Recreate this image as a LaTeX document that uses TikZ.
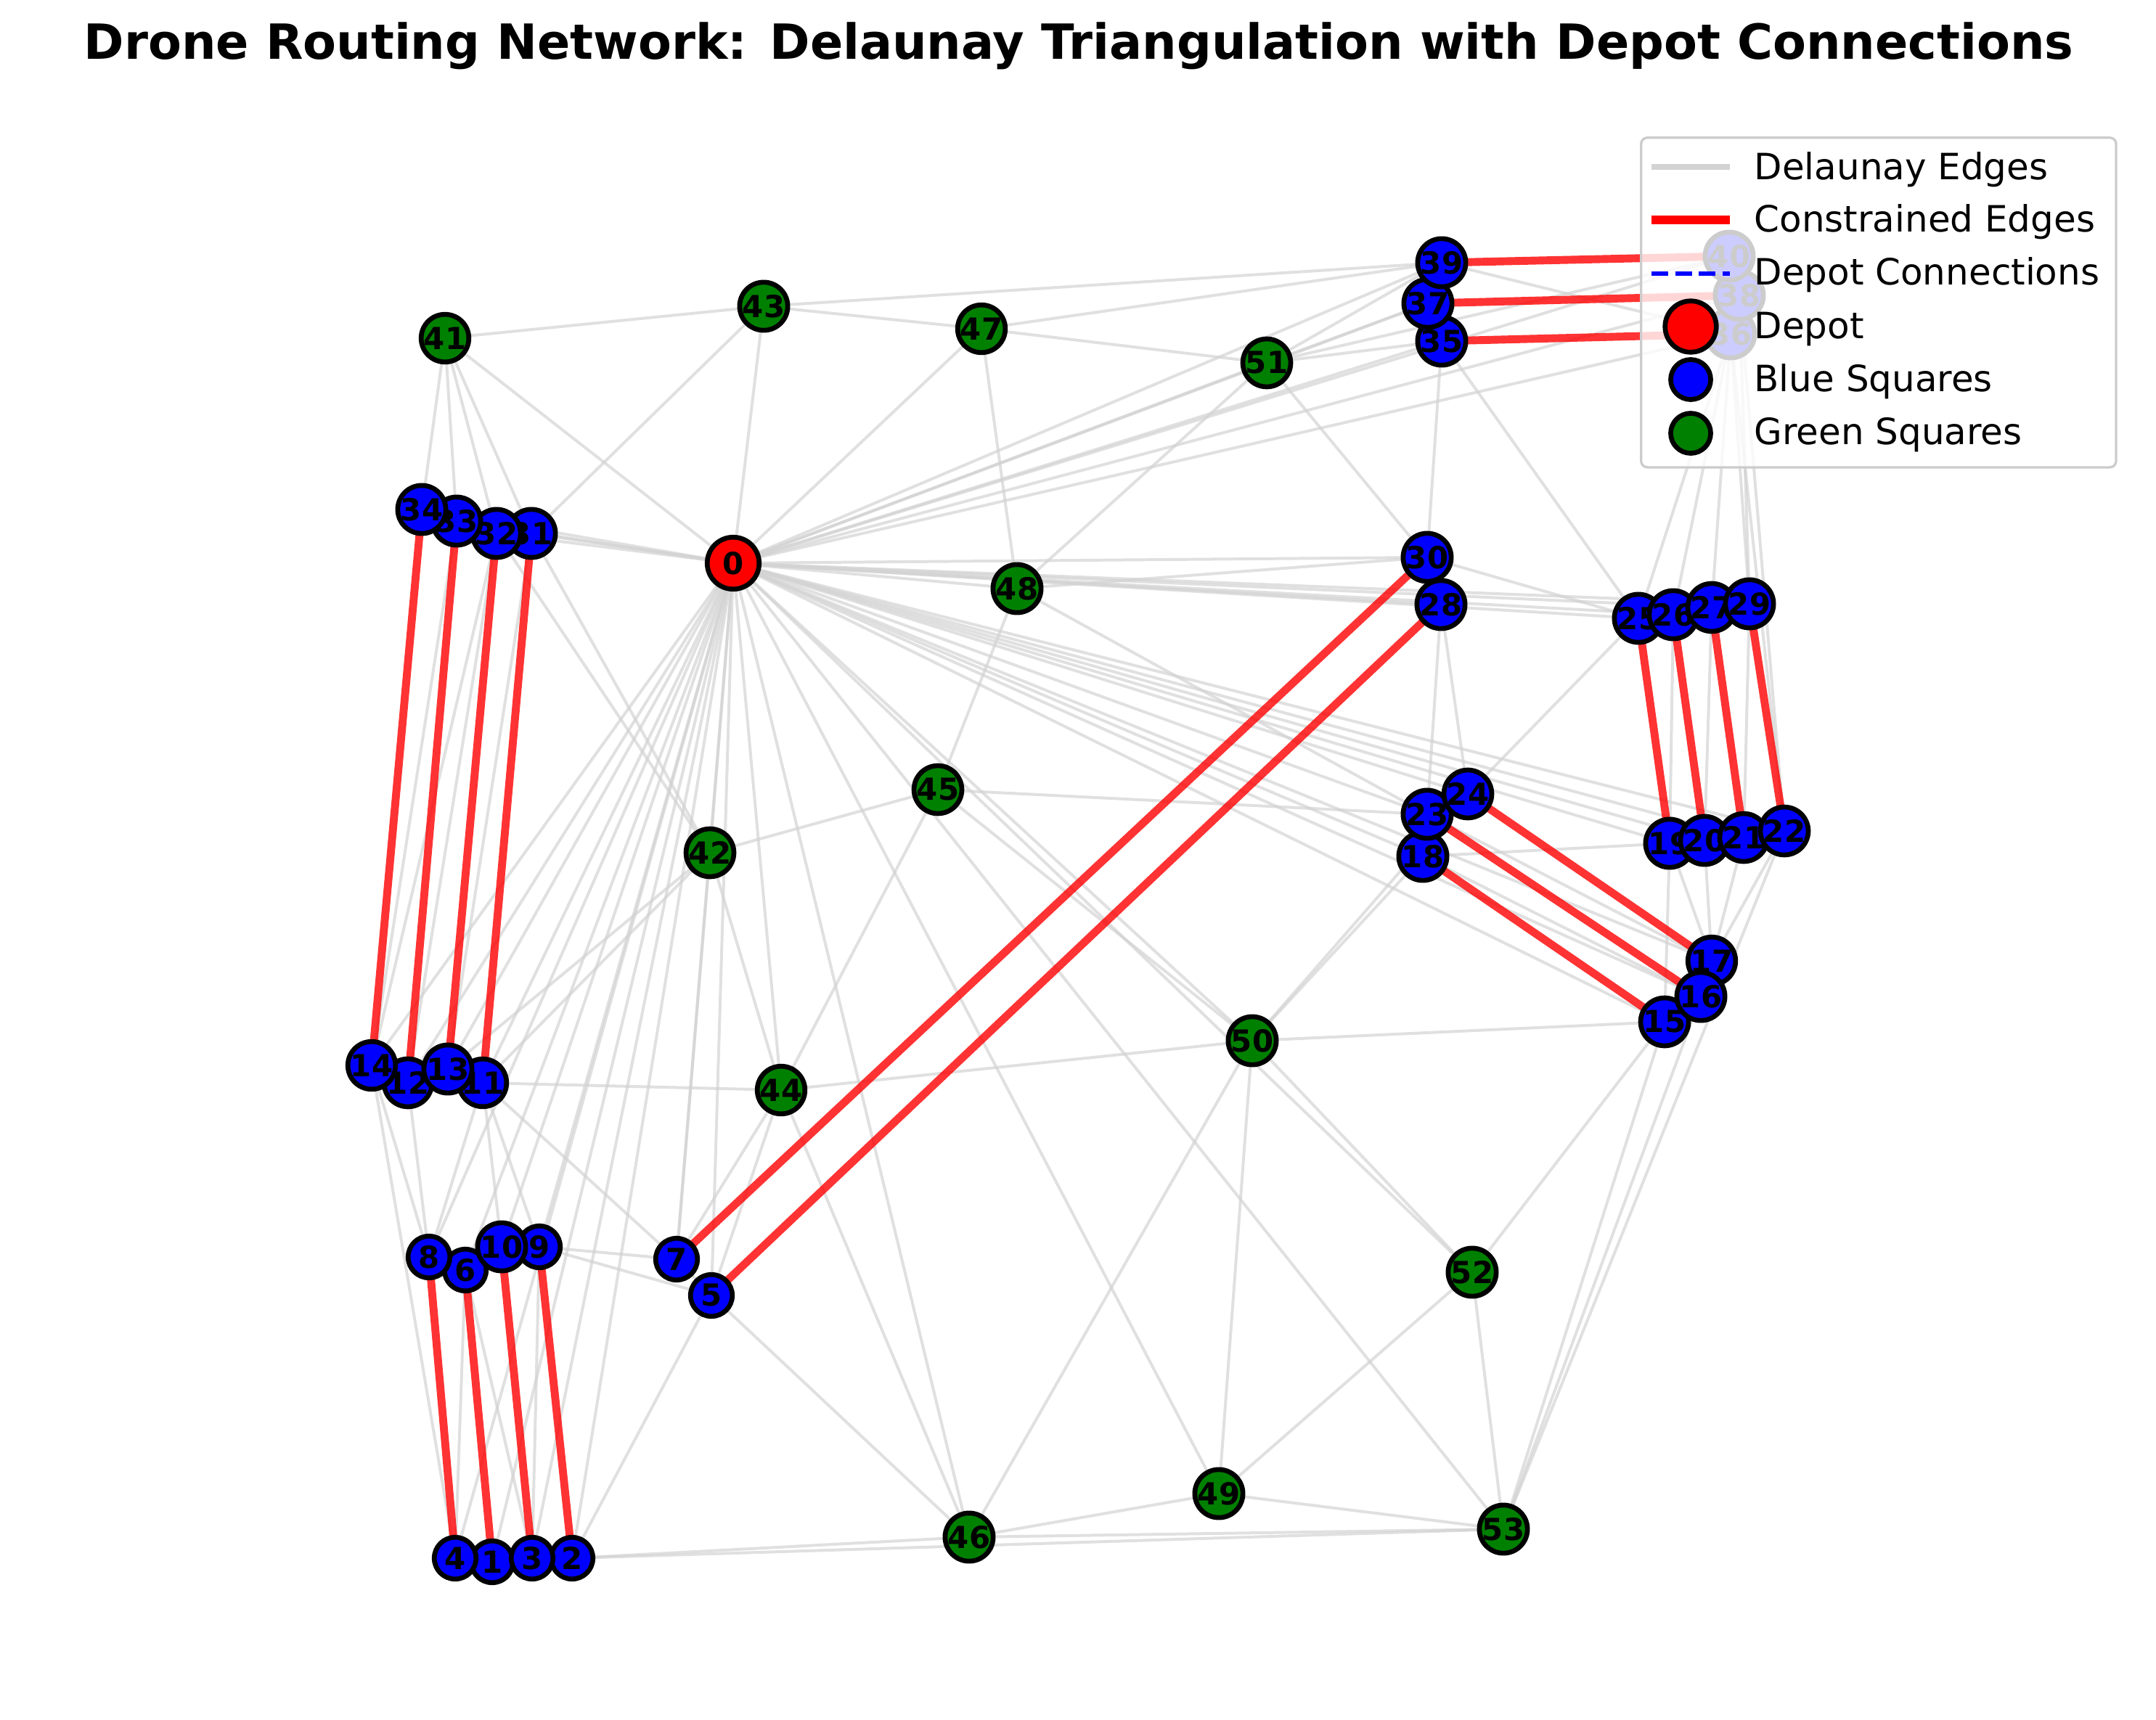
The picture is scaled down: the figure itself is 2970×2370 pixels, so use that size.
\documentclass[tikz,border=0pt]{standalone}
\usepackage{fontspec}
\setmainfont{DejaVu Sans}
\definecolor{mplgray}{RGB}{211,211,211}
\definecolor{mplgreen}{RGB}{0,128,0}
\definecolor{framegray}{RGB}{204,204,204}
\pgfdeclarelayer{bg}
\pgfdeclarelayer{edges}
\pgfsetlayers{bg,edges,main}
\tikzset{
  gedge/.style={draw=mplgray, line width=1.13pt, opacity=0.7},
  redge/.style={draw=red, line width=3.1pt, opacity=0.8},
  vnode/.style={circle, inner sep=0pt, minimum size=0.575cm, line width=1.9pt, draw=black,
    font=\fontsize{11.9}{13}\selectfont\bfseries},
  bnode/.style={vnode, fill=blue},
  gnode/.style={vnode, fill=mplgreen},
  dnode/.style={vnode, fill=red, minimum size=0.715cm},
  legtext/.style={anchor=base west, inner sep=0pt, font=\fontsize{14.2}{16}\selectfont},
  legbox/.style={draw=framegray, line width=0.94pt, rounded corners=2.5pt, fill=white, fill opacity=0.8,
    anchor=north west, inner sep=0pt, minimum width=6.54cm, minimum height=4.54cm},
}
\begin{document}
\begin{tikzpicture}[x=0.01cm, y=-0.01cm]
\useasboundingbox (0,0) rectangle (2970,2370);
\begin{pgfonlayer}{bg}
\fill[white] (0,0) rectangle (2970,2370);
\end{pgfonlayer}
% title
\node[anchor=base, inner sep=0pt, font=\fontsize{19}{22}\selectfont\bfseries] (title) at (1486,82)
  {Drone Routing Network: Delaunay Triangulation with Depot Connections};
% nodes
\node[dnode] (n0) at (1010,776) {0};
\foreach \i/\x/\y in {1/678/2152, 2/788/2147, 3/733/2147, 4/627/2147, 5/980/1785, 6/641/1750,
  7/932/1735, 8/591/1732, 9/743/1718, 10/691/1718, 11/665/1492, 12/562/1492, 13/617/1473,
  14/512/1468, 15/2293/1408, 17/2358/1324, 16/2343/1373, 18/1960/1180, 19/2300/1162, 20/2348/1158,
  21/2402/1154, 22/2458/1145, 23/1966/1122, 24/2022/1094, 25/2257/852, 26/2305/847, 27/2358/837,
  30/1966/768, 28/1985/833, 29/2410/832, 31/732/735, 32/684/735, 33/629/718, 34/581/702,
  35/1986/470, 36/2384/460, 37/1967/418, 38/2396/407, 39/1986/362, 40/2382/353}
  \node[bnode] (n\i) at (\x,\y) {\i};
\foreach \i/\x/\y in {41/613/466, 42/978/1175, 43/1052/422, 44/1076/1502, 45/1292/1088,
  46/1335/2118, 47/1352/453, 48/1401/811, 49/1679/2058, 50/1725/1434, 51/1745/500,
  52/2028/1753, 53/2071/2107}
  \node[gnode] (n\i) at (\x,\y) {\i};
% edges
\begin{pgfonlayer}{edges}
\foreach \b in {1,...,44} \draw[gedge] (n0.center) -- (n\b.center);
\foreach \b in {46,...,53} \draw[gedge] (n0.center) -- (n\b.center);
\foreach \a/\b in {41/43, 41/34, 41/33, 41/32, 41/31, 43/31, 43/39, 43/47, 47/39, 47/51, 47/48,
  51/39, 51/37, 51/35, 51/30, 51/48, 51/40, 39/37, 37/35, 39/36, 35/30, 35/25, 30/28, 30/25,
  30/48, 28/23, 28/24, 25/36, 26/36, 27/36, 29/36, 29/38, 22/36, 22/38, 36/38, 38/40, 26/19,
  27/20, 29/21, 25/24, 24/23, 23/18, 48/45, 48/23, 45/42, 45/44, 45/50, 45/23, 42/7, 42/11,
  42/13, 42/31, 42/32, 42/44, 44/11, 44/7, 44/5, 44/50, 44/46, 33/14, 32/14, 32/12, 31/13,
  14/12, 12/13, 13/11, 14/8, 12/8, 11/8, 11/10, 11/9, 11/7, 14/4, 8/6, 6/10, 10/9, 6/4, 6/3,
  9/3, 9/7, 9/5, 7/5, 4/1, 1/3, 3/2, 2/5, 2/46, 2/53, 5/46, 46/49, 46/53, 46/50, 49/53, 49/50,
  49/52, 50/52, 50/15, 50/18, 50/24, 52/15, 52/53, 53/15, 53/16, 53/22, 15/16, 16/17, 15/19,
  17/19, 17/20, 17/21, 17/22, 18/19, 18/16, 23/17, 19/20, 20/21, 21/22, 25/26, 26/27, 27/29,
  34/33, 33/32, 32/31}
  \draw[gedge] (n\a.center) -- (n\b.center);
\foreach \a/\b in {39/40, 37/38, 35/36, 34/14, 33/12, 32/13, 31/11, 8/4, 6/1, 10/3, 9/2,
  7/30, 5/28, 18/15, 23/16, 24/17, 25/19, 26/20, 27/21, 29/22}
  \draw[redge] (n\a.center) -- (n\b.center);
\end{pgfonlayer}
% legend
\node[legbox] (legbox) at (2259,188) {};
\coordinate (la1) at (2275,230); \coordinate (lb1) at (2383,230);
\coordinate (la2) at (2275,303); \coordinate (lb2) at (2383,303);
\coordinate (la3) at (2275,377); \coordinate (lb3) at (2383,377);
\draw[draw=mplgray, line width=2.3pt] (la1) -- (lb1);
\draw[draw=red, line width=3.5pt] (la2) -- (lb2);
\draw[draw=blue, line width=1.7pt, dash pattern=on 6.5pt off 2.8pt] (la3) -- (lb3);
\node[vnode, fill=red, minimum size=0.705cm] (lm4) at (2329,450) {};
\node[vnode, fill=blue, minimum size=0.55cm] (lm5) at (2329,523) {};
\node[vnode, fill=mplgreen, minimum size=0.55cm] (lm6) at (2329,597) {};
\node[legtext] (lt1) at (2416,248) {Delaunay Edges};
\node[legtext] (lt2) at (2416,320) {Constrained Edges};
\node[legtext] (lt3) at (2416,393) {Depot Connections};
\node[legtext] (lt4) at (2416,466) {Depot};
\node[legtext] (lt5) at (2416,539) {Blue Squares};
\node[legtext] (lt6) at (2416,612) {Green Squares};
\end{tikzpicture}
\end{document}
